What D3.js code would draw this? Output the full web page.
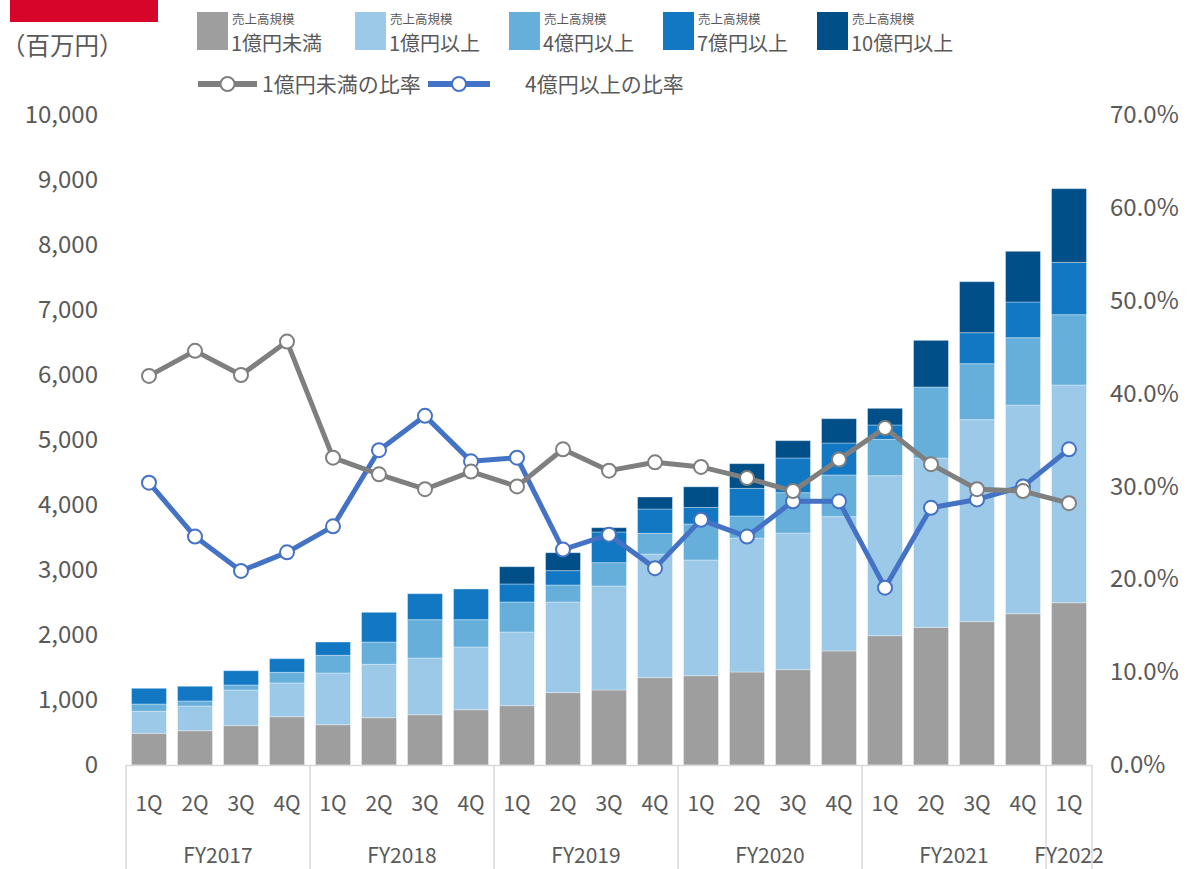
<!DOCTYPE html>
<html><head><meta charset="utf-8">
<script src="https://cdn.jsdelivr.net/npm/d3@7"></script>
<style>
body{margin:0;background:#fff;}
text{font-family:"Noto Sans CJK JP","Noto Sans",sans-serif;fill:#595959;}
</style></head>
<body><svg id="c" width="1196" height="869"></svg>
<script>
const quarters = ["1Q","2Q","3Q","4Q","1Q","2Q","3Q","4Q","1Q","2Q","3Q","4Q","1Q","2Q","3Q","4Q","1Q","2Q","3Q","4Q","1Q"];
const fiscalYears = ["FY2017","FY2018","FY2019","FY2020","FY2021","FY2022"];
const fyCounts = [4,4,4,4,4,1];
const seriesNames = ["1億円未満","1億円以上","4億円以上","7億円以上","10億円以上"];
const under1 = [488,528,605,743,620,728,774,851,913,1113,1154,1344,1374,1431,1467,1754,1990,2118,2205,2328,2497];
const over1  = [338,380,549,519,795,821,872,964,1133,1395,1600,1902,1780,2061,2102,2067,2461,2605,3108,3210,3349];
const over4  = [112,77,77,164,272,343,590,421,462,261,359,318,554,339,621,641,559,1092,861,1036,1082];
const over7  = [242,226,220,210,205,457,400,472,277,221,472,374,254,425,533,492,221,0,477,549,805];
const over10 = [0,0,0,0,0,0,0,0,266,276,66,185,318,380,267,374,256,718,785,780,1134];
const ratioUnder1 = [41.9,44.6,42.0,45.6,33.1,31.3,29.7,31.6,30.0,34.0,31.7,32.6,32.1,30.9,29.5,32.9,36.3,32.4,29.7,29.5,28.2];
const ratioOver4  = [30.4,24.6,20.9,22.9,25.7,33.9,37.6,32.7,33.1,23.2,24.8,21.2,26.4,24.6,28.4,28.4,19.1,27.7,28.6,30.0,34.0];
const leftTicks = [0,1000,2000,3000,4000,5000,6000,7000,8000,9000,10000];
const rightTicks = [0,10,20,30,40,50,60,70];
const lineNames = ["1億円未満の比率","4億円以上の比率"];

const colors = ["#9e9e9e","#9bc9e7","#66afdb","#1278c4","#004f89"];
const lineColors = ["#7f7f7f","#4472c4"];

const svg = d3.select("#c");
const X0 = 126, X1 = 1092, Y0 = 765, Y1 = 115;
const idx = d3.range(quarters.length);
const x = d3.scaleBand().domain(idx).range([X0, X1]).paddingInner(0.24).paddingOuter(0.12);
const y = d3.scaleLinear().domain([0,10000]).range([Y0, Y1]);
const y2 = d3.scaleLinear().domain([0,70]).range([Y0, Y1]);

// red header block
svg.append("rect").attr("x",10).attr("y",0).attr("width",148).attr("height",22).attr("fill","#d8052a");
svg.append("text").attr("x",1).attr("y",55).attr("font-size",24.5).text("（百万円）");

// left axis
const la = svg.append("g").attr("transform",`translate(${X0-10},0)`)
  .call(d3.axisLeft(y).tickValues(leftTicks).tickFormat(d3.format(",")).tickSize(0).tickPadding(18));
la.select(".domain").remove();
la.selectAll("text").attr("font-size",24).style("font-family",'"Noto Sans CJK JP",sans-serif').attr("fill","#595959");

// right axis
const ra = svg.append("g").attr("transform",`translate(${X1},0)`)
  .call(d3.axisRight(y2).tickValues(rightTicks).tickFormat(d=>d.toFixed(1)+"%").tickSize(0).tickPadding(18));
ra.select(".domain").remove();
ra.selectAll("text").attr("font-size",24).style("font-family",'"Noto Sans CJK JP",sans-serif').attr("fill","#595959");

// stacked bars
const rows = idx.map(i => ({i, a:under1[i], b:over1[i], c:over4[i], d:over7[i], e:over10[i]}));
const stack = d3.stack().keys(["a","b","c","d","e"])(rows);
stack.forEach((layer, k) => {
  svg.append("g").selectAll("rect").data(layer.filter(d => d[1]-d[0] > 0)).join("rect")
    .attr("x", d => x(d.data.i)).attr("width", x.bandwidth())
    .attr("y", d => y(d[1])).attr("height", d => y(d[0]) - y(d[1]))
    .attr("fill", colors[k]).attr("stroke","rgba(255,255,255,0.35)").attr("stroke-width",1);
});

// category axis
const axisCol = "#d9d9d9";
svg.append("line").attr("x1",X0).attr("x2",X1).attr("y1",Y0+0.5).attr("y2",Y0+0.5).attr("stroke",axisCol).attr("stroke-width",1.5);
const step = x.step();
let start = 0;
const bounds = [0];
fyCounts.forEach(c => { start += c; bounds.push(start); });
bounds.forEach(b => {
  const bx = b === quarters.length ? X1 : X0 + b*step;
  svg.append("line").attr("x1",bx).attr("x2",bx).attr("y1",Y0).attr("y2",869).attr("stroke",axisCol).attr("stroke-width",1.5);
});
svg.append("g").selectAll("text").data(idx).join("text")
  .attr("x", i => x(i)+x.bandwidth()/2).attr("y",811).attr("text-anchor","middle").attr("font-size",21)
  .text(i => quarters[i]);
fiscalYears.forEach((fy, k) => {
  const a = bounds[k], b = bounds[k+1];
  let cx = (x(a) + x(b-1) + x.bandwidth())/2;
  svg.append("text").attr("x", cx).attr("y",863).attr("text-anchor","middle").attr("font-size",21).text(fy);
});

// lines
const ratios = [ratioUnder1, ratioOver4];
[1,0].forEach(k => {
  const data = ratios[k];
  const line = d3.line().x((d,i)=>x(i)+x.bandwidth()/2).y(d=>y2(d));
  svg.append("path").attr("d", line(data)).attr("fill","none").attr("stroke",lineColors[k]).attr("stroke-width",5).attr("stroke-linejoin","round");
  svg.append("g").selectAll("circle").data(data).join("circle")
    .attr("cx",(d,i)=>x(i)+x.bandwidth()/2).attr("cy",d=>y2(d)).attr("r",7)
    .attr("fill","#fff").attr("stroke",lineColors[k]).attr("stroke-width",2);
});

// legend (bars)
const legX = [197,355,509,663,817];
seriesNames.forEach((n,k) => {
  svg.append("rect").attr("x",legX[k]).attr("y",12).attr("width",31).attr("height",38).attr("fill",colors[k]);
  svg.append("text").attr("x",legX[k]+35).attr("y",24).attr("font-size",12.5).text("売上高規模");
  svg.append("text").attr("x",legX[k]+34).attr("y",51).attr("font-size",20).text(n);
});
// legend (lines)
const lineLegX = [[198,257,262],[428,490,525]];
[0,1].forEach(k => {
  const [a,b,t] = lineLegX[k];
  svg.append("line").attr("x1",a).attr("x2",b).attr("y1",84).attr("y2",84).attr("stroke",lineColors[k]).attr("stroke-width",6);
  svg.append("circle").attr("cx",(a+b)/2).attr("cy",84).attr("r",7).attr("fill","#fff").attr("stroke",lineColors[k]).attr("stroke-width",2);
  svg.append("text").attr("x",t).attr("y",92).attr("font-size",21).text(lineNames[k]);
});
</script></body></html>
